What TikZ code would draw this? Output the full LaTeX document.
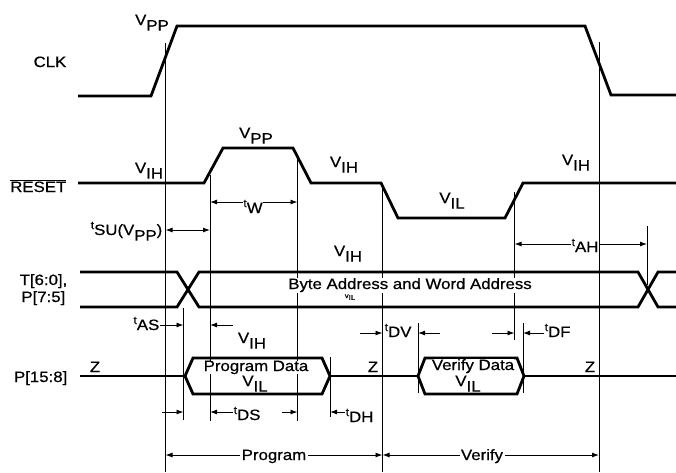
\documentclass[tikz,border=0pt]{standalone}
\usepackage{fontspec}
\setmainfont[FakeStretch=1.12, FakeBold=0.6]{Liberation Sans}
\usetikzlibrary{arrows.meta}
\newcommand{\Vsub}[1]{V\raisebox{-0.7ex}{#1}}
\newcommand{\tsub}[1]{\raisebox{0.75ex}{\fontsize{11}{11}\selectfont t}#1}
\begin{document}
\begin{tikzpicture}[x=1pt, y=-1pt,
	wave/.style={line width=2.8pt, line join=miter},
	vline/.style={line width=0.9pt},
	dimarrow/.style={line width=0.9pt, -{Latex[length=7pt,width=5pt]}},
	dimboth/.style={line width=0.9pt, {Latex[length=7pt,width=5pt]}-{Latex[length=7pt,width=5pt]}},
	every node/.style={inner sep=0.5pt, font=\fontsize{15}{17}\selectfont}]
	\useasboundingbox (0,0) rectangle (676,472);

	% Signalnamen
	\node[anchor=base east] (clk) at (67,67) {CLK};
	\node[anchor=base east] (rst) at (67,192) {$\overline{\mbox{RESET}}$};
	\node[anchor=base east] (tadr) at (68,285) {T[6:0],};
	\node[anchor=base east] (padr) at (66,302) {P[7:5]};
	\node[anchor=base east] (pdat) at (68,382) {P[15:8]};

	% Signalverlaeufe
	\draw[wave] (78,96) -- (151,96) -- (177,26) -- (585,26) -- (611,95) -- (676,95);
	\draw[wave] (78,183) -- (204,183) -- (223,148) -- (293,148) -- (311,183)
		-- (381,183) -- (398,218) -- (505,218) -- (523,183) -- (676,183);
	\draw[wave] (80,272) -- (177,272) -- (199,307) -- (638,307) -- (658,272) -- (676,272);
	\draw[wave] (80,307) -- (177,307) -- (199,272) -- (638,272) -- (658,307) -- (676,307);
	\draw[wave] (80,376) -- (185,376);
	\draw[wave] (185,376) -- (193,358) -- (322,358) -- (330,376) -- (322,394) -- (193,394) -- cycle;
	\draw[wave] (330,376) -- (418,376);
	\draw[wave] (418,376) -- (425,358) -- (517,358) -- (524,376) -- (517,394) -- (425,394) -- cycle;
	\draw[wave] (524,376) -- (676,376);

	% Hilfslinien
	\draw[vline] (165.5,43) -- (165.5,472);
	\draw[vline] (183.5,308) -- (183.5,420);
	\draw[vline] (210,175) -- (210,421);
	\draw[vline] (297.5,156) -- (297.5,421);
	\draw[vline] (330,357) -- (330,417);
	\draw[vline] (382.5,183) -- (382.5,472);
	\draw[vline] (418,323) -- (418,393);
	\draw[vline] (514.5,192) -- (514.5,340);
	\draw[vline] (523,323) -- (523,393);
	\draw[vline] (599,42) -- (599,472);
	\draw[vline] (647,226) -- (647,285);

	% Pegel
	\node[anchor=base] (vpp1) at (152,25) {\Vsub{PP}};
	\node[anchor=base] (vpp2) at (256,138) {\Vsub{PP}};
	\node[anchor=base] (vih1) at (149,173) {\Vsub{IH}};
	\node[anchor=base] (vih2) at (344,167) {\Vsub{IH}};
	\node[anchor=base] (vil1) at (452,203) {\Vsub{IL}};
	\node[anchor=base] (vih3) at (576,165) {\Vsub{IH}};
	\node[anchor=base] (vih4) at (348,256) {\Vsub{IH}};
	\node[anchor=base] (vih5) at (252,343) {\Vsub{IH}};

	% Daten
	\node[anchor=base, fill=white] (bwa) at (410,289) {Byte Address and Word Address};
	\node[anchor=base, font=\fontsize{7}{7}\selectfont] (vil0) at (350,298) {v\raisebox{-0.5ex}{IL}};
	\node[anchor=base, fill=white, inner sep=0pt] (pgd) at (256,371) {Program Data};
	\node[anchor=base, inner sep=0pt] (vil2) at (255,386) {\Vsub{IL}};
	\node[anchor=base, fill=white, inner sep=0pt] (vfd) at (473,370) {Verify Data};
	\node[anchor=base, inner sep=0pt] (vil3) at (468,386) {\Vsub{IL}};
	\node[anchor=base] (z1) at (95,372) {Z};
	\node[anchor=base] (z2) at (373,372) {Z};
	\node[anchor=base] (z3) at (590,372) {Z};

	% Zeiten
	\draw[dimboth] (210,202) -- (297.5,202);
	\node[anchor=base, fill=white] (tw) at (253,213) {\tsub{W}};
	\draw[dimboth] (165.5,230) -- (210,230);
	\node[anchor=base east] (tsu) at (163,235) {\tsub{SU(\Vsub{PP})}};
	\draw[dimboth] (514.5,244) -- (647,244);
	\node[anchor=base, fill=white] (tah) at (585,252) {\tsub{AH}};
	\node[anchor=base east] (tas) at (160,330) {\tsub{AS}};
	\draw[dimarrow] (tas.east |- 0,325) -- (183.5,325);
	\draw[dimarrow] (233,325) -- (210,325);
	\node[anchor=base west] (tdv) at (384,337) {\tsub{DV}};
	\draw[dimarrow] (360,333) -- (382.5,333);
	\draw[dimarrow] (440,333) -- (418,333);
	\node[anchor=base west] (tdf) at (544,337) {\tsub{DF}};
	\draw[dimarrow] (492,333) -- (514.5,333);
	\draw[dimarrow] (tdf.west |- 0,333) -- (523,333);
	\draw[dimarrow] (162,412) -- (183.5,412);
	\node[anchor=base west] (tds) at (233,420) {\tsub{DS}};
	\draw[dimarrow] (tds.west |- 0,412) -- (210,412);
	\draw[dimarrow] (282,412) -- (297.5,412);
	\node[anchor=base west] (tdh) at (345,422) {\tsub{DH}};
	\draw[dimarrow] (tdh.west |- 0,412) -- (330,412);

	% Phasen
	\draw[dimboth] (165.5,455) -- (382.5,455);
	\node[anchor=base, fill=white, inner sep=1.5pt] (prg) at (274,460) {Program};
	\draw[dimboth] (382.5,455) -- (599,455);
	\node[anchor=base, fill=white, inner sep=1.5pt] (vfy) at (482,460) {Verify};
\end{tikzpicture}
\end{document}
